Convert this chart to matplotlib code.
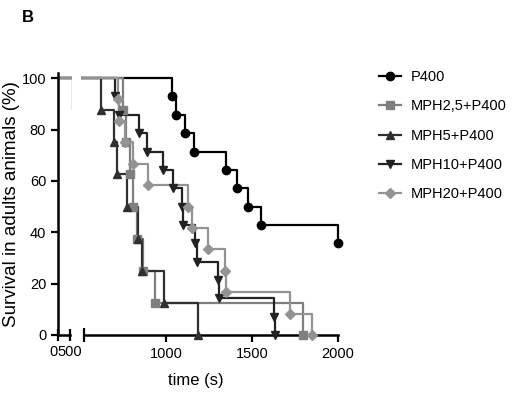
import matplotlib.pyplot as plt
import numpy as np

plt.rcParams['font.family'] = ['Liberation Sans', 'DejaVu Sans']

# Kaplan-Meier event times (s) and survival after each event (%)
p400_t = [1035, 1058, 1110, 1163, 1349, 1413, 1477, 1552, 2000]
p400_s = [92.9, 85.7, 78.6, 71.4, 64.3, 57.1, 50.0, 42.9, 35.7]

mph25_t = [750, 767, 791, 808, 831, 866, 936, 1797]
mph25_s = [87.5, 75.0, 62.5, 50.0, 37.5, 25.0, 12.5, 0.0]

mph5_t = [622, 698, 715, 773, 837, 860, 988, 1186]
mph5_s = [87.5, 75.0, 62.5, 50.0, 37.5, 25.0, 12.5, 0.0]

mph10_t = [703, 727, 843, 890, 983, 1041, 1093, 1099, 1169, 1180, 1302, 1308, 1628, 1634]
mph10_s = [92.9, 85.7, 78.6, 71.4, 64.3, 57.1, 50.0, 42.9, 35.7, 28.6, 21.4, 14.3, 7.1, 0.0]

mph20_t = [721, 727, 762, 808, 895, 1128, 1151, 1244, 1343, 1349, 1721, 1849]
mph20_s = [91.7, 83.3, 75.0, 66.7, 58.3, 50.0, 41.7, 33.3, 25.0, 16.7, 8.3, 0.0]

series = [
    ('P400', p400_t, p400_s, '#000000', 'o'),
    ('MPH2,5+P400', mph25_t, mph25_s, '#7f7f7f', 's'),
    ('MPH5+P400', mph5_t, mph5_s, '#303030', '^'),
    ('MPH10+P400', mph10_t, mph10_s, '#222222', 'v'),
    ('MPH20+P400', mph20_t, mph20_s, '#939393', 'D'),
]

W, H = 516, 396
fig = plt.figure(figsize=(W / 100, H / 100), dpi=100)

bottom = (H - 335) / H
height = 262 / H
ax1 = fig.add_axes([58 / W, bottom, 14 / W, height])
ax2 = fig.add_axes([81 / W, bottom, 264 / W, height])

handles = []
for name, t, s, col, mk in series:
    tt = [0] + list(t)
    ss = [100] + list(s)
    for ax in (ax1, ax2):
        ax.step(tt, ss, where='post', color=col, lw=1.6, clip_on=True)
    ms = 5 if mk == 'D' else 6
    ax2.plot(t, s, linestyle='none', marker=mk, color=col, ms=ms, clip_on=False, zorder=3)
    h, = ax2.plot([], [], color=col, lw=1.6, marker=mk, ms=ms)
    handles.append(h)

for ax in (ax1, ax2):
    ax.set_ylim(0, 102)
    for sp in ['top', 'right']:
        ax.spines[sp].set_visible(False)
    ax.spines['bottom'].set_linewidth(1.8)
    ax.tick_params(labelsize=10.5, width=1.6, length=5)

ax1.set_xlim(0, 583)
ax1.spines['bottom'].set_bounds(0, 500)
ax1.spines['left'].set_linewidth(1.8)
ax1.set_xticks([0, 500])
ax1.set_xticklabels(['0', '500'])
ax1.tick_params(axis='x', direction='inout', length=8, pad=3)
xl = ax1.get_xticklabels()
xl[0].set_ha('right')
xl[1].set_ha('center')
ax1.set_yticks([0, 20, 40, 60, 80, 100])
ax1.set_ylabel('Survival in adults animals (%)', fontsize=13.5, labelpad=1)

ax2.set_xlim(506, 2041)
ax2.spines['left'].set_visible(False)
ax2.spines['bottom'].set_bounds(523, 2000)
ax2.set_yticks([])
ax2.set_xticks([1000, 1500, 2000])
ax2.set_xticks([523], minor=True)
ax2.tick_params(axis='x', which='minor', direction='inout', length=10, width=1.6)
ax2.tick_params(axis='x', pad=4)

fig.text(196 / W, (H - 381) / H, 'time (s)', fontsize=12, ha='center', va='center')
fig.text(22 / W, (H - 18) / H, 'B', fontsize=12, fontweight='bold', va='center')

fig.legend(handles, [s[0] for s in series], loc='upper left',
           bbox_to_anchor=(366 / W, (H - 57) / H), frameon=False,
           fontsize=10.5, handlelength=1.5, labelspacing=1.05, handletextpad=0.7)

fig.savefig('out.png', dpi=100)
